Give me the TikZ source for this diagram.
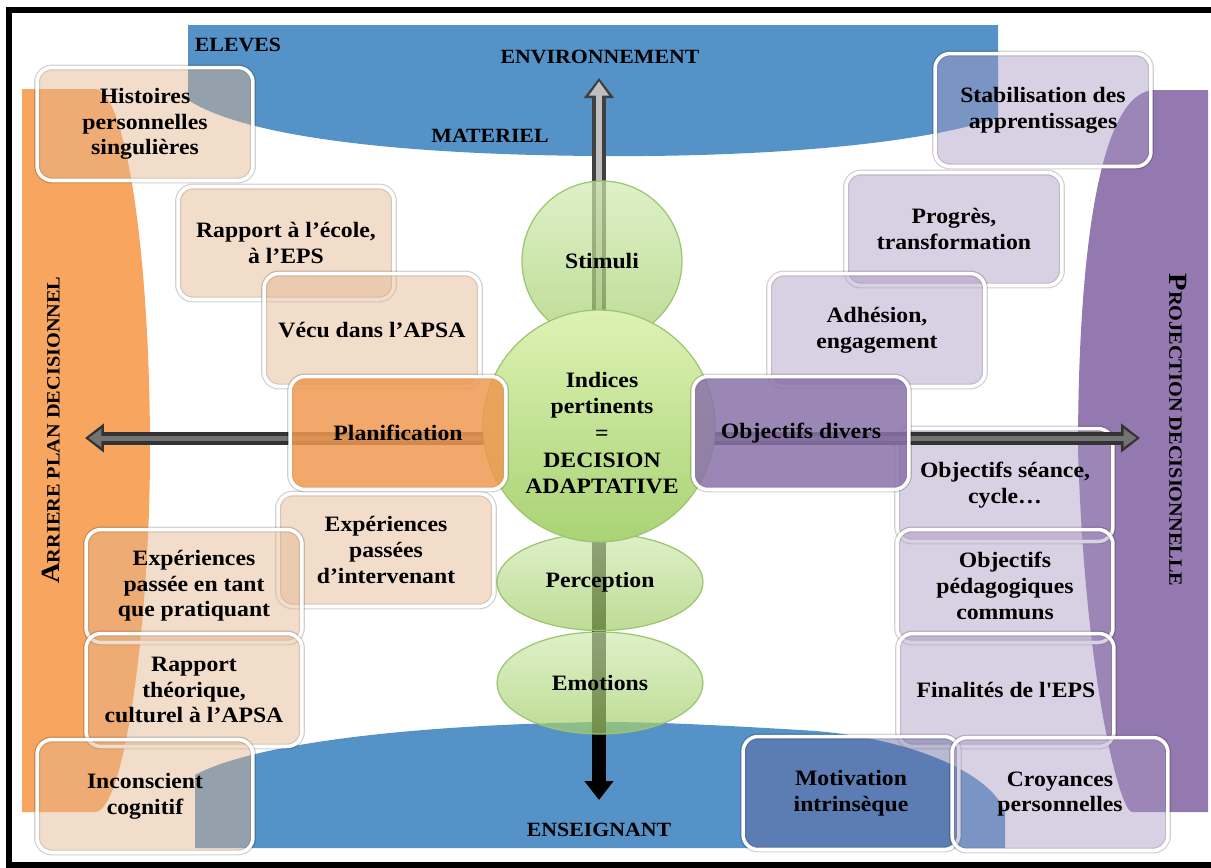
\documentclass[tikz,border=0pt]{standalone}
\usepackage{fontspec}
\setmainfont[FakeStretch=1.08]{Liberation Serif}
\usetikzlibrary{arrows.meta,shapes.geometric}

\definecolor{bandblue}{HTML}{5492C8}
\definecolor{bandorange}{HTML}{F8A560}
\definecolor{bandpurple}{HTML}{9379B0}
\definecolor{peach}{HTML}{E2B48C}
\definecolor{lilac}{HTML}{A997C1}
\definecolor{planorange}{HTML}{EE9950}
\definecolor{objpurple}{HTML}{8A72A9}
\definecolor{motblue}{HTML}{66649B}
\definecolor{leaftop}{HTML}{D0EAB0}
\definecolor{leafbot}{HTML}{A2CD69}
\definecolor{hubtop}{HTML}{DDF2B4}
\definecolor{hubbot}{HTML}{A9D374}
\definecolor{leafedge}{HTML}{9DC46F}

\newcommand{\cardfont}{\fontsize{12.5}{14.6}\selectfont\bfseries}
\newcommand{\bandfont}{\fontsize{11.5}{13}\selectfont\bfseries}

\tikzset{
  card/.style={rounded corners=0.3cm, minimum width=4.32cm, minimum height=2.26cm,
    align=center, font=\cardfont, fill opacity=0.45, text opacity=1,
    preaction={draw=black, draw opacity=0.18, line width=3.4pt},
    draw=white, line width=2pt},
  leftcard/.style={card, fill=peach},
  rightcard/.style={card, fill=lilac},
  leaf/.style={draw=leafedge, line width=0.7pt, top color=leaftop, bottom color=leafbot,
    fill opacity=0.7, text opacity=1, font=\cardfont},
  bandlabel/.style={font=\bandfont, inner sep=1pt},
  sidelabel/.style={font=\bfseries, inner sep=1pt},
  fatout/.style={line width=0.28cm},
  fatin/.style={line width=0.13cm}
}

\begin{document}
\begin{tikzpicture}[x=0.02cm,y=-0.02cm]
  \useasboundingbox (0,0) rectangle (1211,867);

  %bands
  \fill[bandblue] (188,25) -- (998,25) -- (998,118)
    .. controls (900,150) and (720,157) .. (600,156)
    .. controls (420,155) and (250,140) .. (188,100) -- cycle;
  \fill[bandblue] (195,848) -- (1005,848) -- (1005,812)
    .. controls (990,770) and (900,735) .. (800,730)
    .. controls (700,724) and (650,722) .. (600,722)
    .. controls (400,725) and (250,745) .. (195,775) -- cycle;
  \fill[bandorange] (22,89) -- (95,89)
    .. controls (125,89) and (150,250) .. (150,450)
    .. controls (150,620) and (125,812) .. (95,812) -- (22,812) -- cycle;
  \fill[bandpurple] (1208,90) -- (1208,812) -- (1132,812)
    .. controls (1120,812) and (1085,680) .. (1078,450)
    .. controls (1078,250) and (1100,90) .. (1155,90) -- cycle;

  %frame
  \draw[line width=0.12cm] (1215,10) -- (9,10) -- (9,864.5) -- (1215,864.5);

  %band labels
  \node[bandlabel] (eleves) at (238,45) {ELEVES};
  \node[bandlabel] (env) at (600,57) {ENVIRONNEMENT};
  \node[bandlabel] (mat) at (490,136) {MATERIEL};
  \node[bandlabel] (ens) at (599,830) {ENSEIGNANT};
  \node[sidelabel, rotate=90] (arriere) at (51,430)
    {\fontsize{15}{15}\selectfont A\fontsize{10.7}{12}\selectfont RRIERE PLAN DECISIONNEL};
  \node[sidelabel, rotate=-90] (proj) at (1178,430)
    {\fontsize{15}{15}\selectfont P\fontsize{10.7}{12}\selectfont ROJECTION DECISIONNELLE};

  %vertical arrows
  \coordinate (hub) at (599,426);
  \coordinate (uptip) at (599,78);
  \coordinate (downtip) at (599,800);
  \draw[fatout, draw=black!75, -{Triangle[length=0.4cm,width=0.58cm]}] (hub) -- (uptip);
  \draw[fatin, draw=black!25, -{Triangle[length=0.28cm,width=0.38cm]}, shorten >=0.07cm] (hub) -- (uptip);
  \draw[fatout, draw=black, -{Triangle[length=0.38cm,width=0.56cm]}] (hub) -- (downtip);

  %small circles
  \node[leaf, circle, minimum size=3.2cm] (stim) at (602,261) {Stimuli};
  \node[leaf, ellipse, minimum width=4.12cm, minimum height=1.94cm] (perc) at (600,582) {Perception};
  \node[leaf, ellipse, minimum width=4.12cm, minimum height=2.04cm] (emo) at (600,683) {Emotions};

  %left cards
  \node[leftcard] (hist) at (145,124) {Histoires\\personnelles\\singulières};
  \node[leftcard] (ecole) at (286,243) {Rapport à l’école,\\à l’EPS};
  \node[leftcard] (vecu) at (372,330) {Vécu dans l’APSA};
  \node[leftcard] (interv) at (386,550) {Expériences\\passées\\d’intervenant};
  \node[leftcard] (prat) at (194,586) {Expériences\\passée en tant\\que pratiquant};
  \node[leftcard] (theo) at (194,690) {Rapport\\théorique,\\culturel à l’APSA};
  \node[leftcard] (incons) at (145,796) {Inconscient\\cognitif};

  %right cards
  \node[rightcard] (stab) at (1043,110) {Stabilisation des\\apprentissages};
  \node[rightcard] (prog) at (954,229) {Progrès,\\transformation};
  \node[rightcard] (adh) at (877,330) {Adhésion,\\engagement};
  \node[rightcard] (seance) at (1005,485) {Objectifs séance,\\cycle…};
  \node[rightcard] (peda) at (1005,586) {Objectifs\\pédagogiques\\communs};
  \node[rightcard] (final) at (1006,690) {Finalités de l\textquotesingle EPS};
  \node[card, fill=motblue] (motiv) at (851,793) {Motivation\\intrinsèque};
  \node[rightcard] (croy) at (1060,794) {Croyances\\personnelles};

  %horizontal arrow
  \coordinate (lefttip) at (85,438);
  \coordinate (righttip) at (1140,438);
  \draw[fatout, line width=0.26cm, draw=black!80,
    {Triangle[length=0.38cm,width=0.56cm]}-{Triangle[length=0.38cm,width=0.56cm]}] (lefttip) -- (righttip);
  \draw[fatin, line width=0.1cm, draw=black!55,
    {Triangle[length=0.26cm,width=0.36cm]}-{Triangle[length=0.26cm,width=0.36cm]},
    shorten <=0.07cm, shorten >=0.07cm] (lefttip) -- (righttip);

  %central decision
  \node[circle, minimum size=4.64cm, draw=leafedge, line width=0.7pt,
    top color=hubtop, bottom color=hubbot] (ind) at (hub) {};
  \node[font=\cardfont, align=center, inner sep=0pt,
    execute at begin node={\setlength{\baselineskip}{15.2pt}}] (indtxt) at (602,433)
    {Indices\\pertinents\\=\\DECISION\\ADAPTATIVE};

  %middle cards
  \node[card, fill=planorange, fill opacity=0.85] (plan) at (398,433) {Planification};
  \node[card, fill=objpurple, fill opacity=0.85] (objd) at (801,433) {Objectifs divers};
\end{tikzpicture}
\end{document}
